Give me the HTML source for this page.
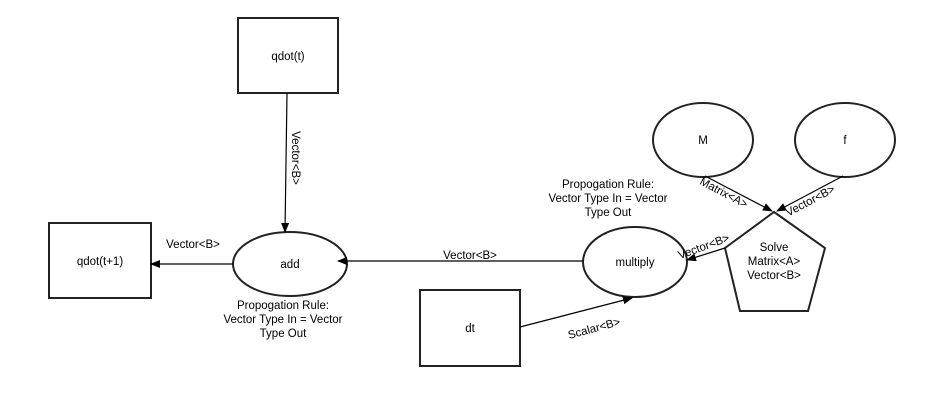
<!DOCTYPE html>
<html><head><meta charset="utf-8"><style>
html,body{margin:0;padding:0;background:#fff;}
svg{display:block;font-family:"Liberation Sans",Arial,sans-serif;font-size:11.5px;}
</style></head><body>
<svg width="934" height="416" viewBox="0 0 934 416" xmlns="http://www.w3.org/2000/svg">
<defs><marker id="a" markerWidth="10" markerHeight="8" refX="9" refY="4" orient="auto" markerUnits="userSpaceOnUse"><path d="M0,0 L10,4 L0,8 z" fill="#000"/></marker></defs>
<g fill="#fff" stroke="#222" stroke-width="2">
<rect x="238" y="18" width="100" height="75"/>
<rect x="49" y="223" width="102" height="75"/>
<rect x="420" y="290" width="100" height="76"/>
<ellipse cx="290" cy="264" rx="57" ry="32"/>
<ellipse cx="635" cy="262" rx="52" ry="35"/>
<ellipse cx="703" cy="140" rx="50" ry="37"/>
<ellipse cx="845" cy="140" rx="50" ry="37"/>
<polygon points="774,212 825,248 808,311 740,311 725,248"/>
</g>
<g stroke="#000" stroke-width="1.2" fill="none">
<line x1="287" y1="93" x2="285" y2="232" marker-end="url(#a)"/>
<line x1="233" y1="264" x2="151" y2="264" marker-end="url(#a)"/>
<line x1="583" y1="261" x2="338" y2="261" marker-end="url(#a)"/>
<line x1="520" y1="327" x2="632" y2="298" marker-end="url(#a)"/>
<line x1="705" y1="176" x2="772" y2="211" marker-end="url(#a)"/>
<line x1="843" y1="176" x2="777" y2="211" marker-end="url(#a)"/>
<line x1="725" y1="248" x2="687" y2="260" marker-end="url(#a)"/>
</g>
<g fill="#000" text-anchor="middle">
<text x="288" y="60">qdot(t)</text>
<text x="100" y="265">qdot(t+1)</text>
<text x="470" y="332">dt</text>
<text x="290" y="268">add</text>
<text x="635" y="266">multiply</text>
<text x="703" y="144">M</text>
<text x="845" y="144">f</text>
<text x="774" y="251">Solve</text>
<text x="774" y="265">Matrix&lt;A&gt;</text>
<text x="774" y="279">Vector&lt;B&gt;</text>
<text x="193" y="248">Vector&lt;B&gt;</text>
<text x="470" y="259">Vector&lt;B&gt;</text>
<text x="283" y="309">Propogation Rule:</text>
<text x="283" y="323">Vector Type In = Vector</text>
<text x="283" y="337">Type Out</text>
<text x="608" y="188">Propogation Rule:</text>
<text x="608" y="202">Vector Type In = Vector</text>
<text x="608" y="216">Type Out</text>
<text transform="translate(292,158) rotate(90)">Vector&lt;B&gt;</text>
<text transform="translate(595,332) rotate(-15)">Scalar&lt;B&gt;</text>
<text transform="translate(722,196) rotate(28)">Matrix&lt;A&gt;</text>
<text transform="translate(812,204) rotate(-28)">Vector&lt;B&gt;</text>
<text transform="translate(705,250) rotate(-20)">Vector&lt;B&gt;</text>
</g>
</svg>
</body></html>
